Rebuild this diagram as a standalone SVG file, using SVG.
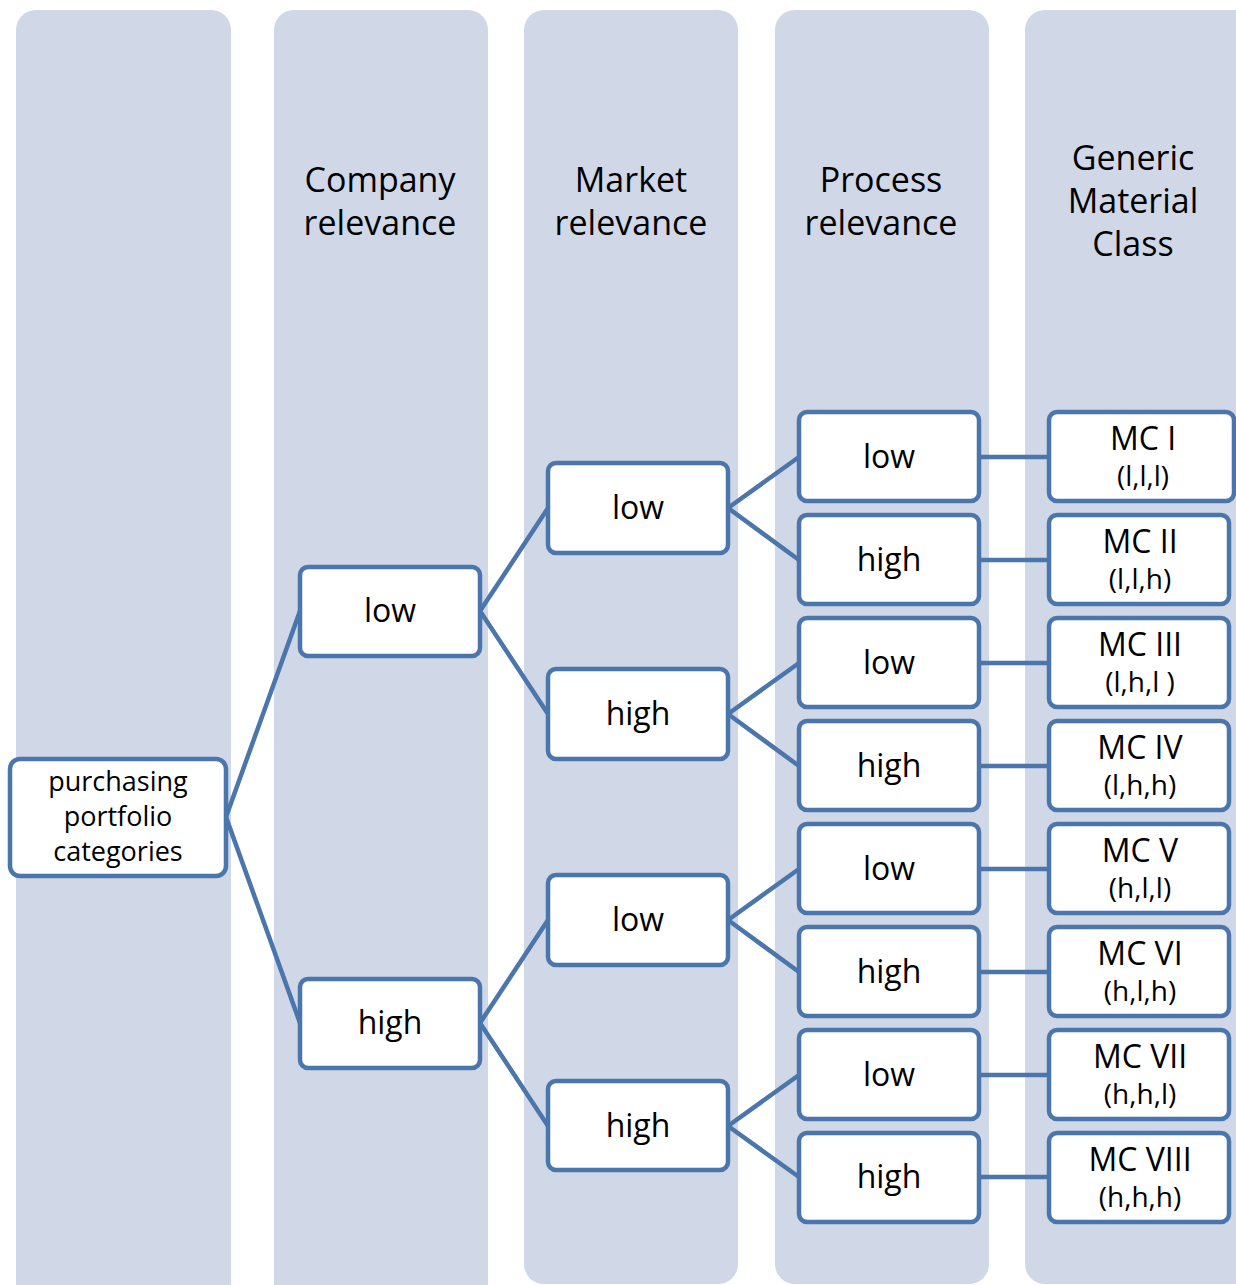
<svg xmlns="http://www.w3.org/2000/svg" width="1236" height="1285" viewBox="0 0 1236 1285">
<style>
.col{fill:#D0D8E8}
.box{fill:#FFFFFF;stroke:#4A76AC;stroke-width:4.5}
.hdr{font-family:"Open Sans","Liberation Sans",sans-serif;font-size:34px;fill:#000;text-anchor:middle}
.t{font-family:"Open Sans","Liberation Sans",sans-serif;font-size:32px;fill:#000;text-anchor:middle}
.s{font-family:"Open Sans","Liberation Sans",sans-serif;font-size:27px;fill:#000;text-anchor:middle}
.sm{font-family:"Open Sans","Liberation Sans",sans-serif;font-size:28px;fill:#000;text-anchor:middle}
.m{font-family:"Open Sans","Liberation Sans",sans-serif;font-size:32px;fill:#000;text-anchor:middle}
.c{fill:none;stroke:#4A76AC;stroke-width:4.5}
</style>
<rect width="1236" height="1285" fill="#FFFFFF"/>
<g id="columns">
<rect class="col" x="16" y="10" width="215" height="1295" rx="20"/>
<rect class="col" x="274" y="10" width="214" height="1295" rx="20"/>
<rect class="col" x="524" y="10" width="214" height="1274" rx="20"/>
<rect class="col" x="775" y="10" width="214" height="1274" rx="20"/>
<rect class="col" x="1025" y="10" width="230" height="1274" rx="20"/>
<text class="hdr" x="380" y="192">Company</text>
<text class="hdr" x="380" y="235">relevance</text>
<text class="hdr" x="631" y="192">Market</text>
<text class="hdr" x="631" y="235">relevance</text>
<text class="hdr" x="881" y="192">Process</text>
<text class="hdr" x="881" y="235">relevance</text>
<text class="hdr" x="1133" y="170">Generic</text>
<text class="hdr" x="1133" y="213">Material</text>
<text class="hdr" x="1133" y="256">Class</text>
</g>
<g id="connectors">
<path class="c" d="M226 817 L300 611 M226 817 L300 1023"/>
<path class="c" d="M480 611 L548 508 M480 611 L548 714 M480 1023 L548 920 M480 1023 L548 1126"/>
<path class="c" d="M728 508 L799 457 M728 508 L799 560 M728 714 L799 663 M728 714 L799 766 M728 920 L799 869 M728 920 L799 972 M728 1126 L799 1075 M728 1126 L799 1177"/>
<path class="c" d="M979 457 H1049 M979 560 H1049 M979 663 H1049 M979 766 H1049 M979 869 H1049 M979 972 H1049 M979 1075 H1049 M979 1177 H1049"/>
</g>
<g id="root">
<rect class="box" x="10" y="759" width="216" height="117" rx="10"/>
<text class="s" x="118" y="791">purchasing</text>
<text class="s" x="118" y="826">portfolio</text>
<text class="s" x="118" y="861">categories</text>
</g>
<g id="company-low"><rect class="box" x="300" y="567" width="180" height="89" rx="8"/><text class="t" x="390" y="622">low</text></g>
<g id="company-high"><rect class="box" x="300" y="979" width="180" height="89" rx="8"/><text class="t" x="390" y="1034">high</text></g>
<g id="market-low-1"><rect class="box" x="548" y="463" width="180" height="90" rx="8"/><text class="t" x="638" y="519">low</text></g>
<g id="market-high-1"><rect class="box" x="548" y="669" width="180" height="90" rx="8"/><text class="t" x="638" y="725">high</text></g>
<g id="market-low-2"><rect class="box" x="548" y="875" width="180" height="90" rx="8"/><text class="t" x="638" y="931">low</text></g>
<g id="market-high-2"><rect class="box" x="548" y="1081" width="180" height="89" rx="8"/><text class="t" x="638" y="1137">high</text></g>
<g id="process-1"><rect class="box" x="799" y="412" width="180" height="89" rx="8"/><text class="t" x="889" y="468">low</text></g>
<g id="process-2"><rect class="box" x="799" y="515" width="180" height="89" rx="8"/><text class="t" x="889" y="571">high</text></g>
<g id="process-3"><rect class="box" x="799" y="618" width="180" height="89" rx="8"/><text class="t" x="889" y="674">low</text></g>
<g id="process-4"><rect class="box" x="799" y="721" width="180" height="89" rx="8"/><text class="t" x="889" y="777">high</text></g>
<g id="process-5"><rect class="box" x="799" y="824" width="180" height="89" rx="8"/><text class="t" x="889" y="880">low</text></g>
<g id="process-6"><rect class="box" x="799" y="927" width="180" height="89" rx="8"/><text class="t" x="889" y="983">high</text></g>
<g id="process-7"><rect class="box" x="799" y="1030" width="180" height="89" rx="8"/><text class="t" x="889" y="1086">low</text></g>
<g id="process-8"><rect class="box" x="799" y="1133" width="180" height="89" rx="8"/><text class="t" x="889" y="1188">high</text></g>
<g id="mc-1"><rect class="box" x="1049" y="412" width="185" height="89" rx="8"/><text class="m" x="1143" y="450">MC I</text><text class="sm" x="1143" y="486">(l,l,l)</text></g>
<g id="mc-2"><rect class="box" x="1049" y="515" width="180" height="89" rx="8"/><text class="m" x="1140" y="553">MC II</text><text class="sm" x="1140" y="589">(l,l,h)</text></g>
<g id="mc-3"><rect class="box" x="1049" y="618" width="180" height="89" rx="8"/><text class="m" x="1140" y="656">MC III</text><text class="sm" x="1140" y="692">(l,h,l )</text></g>
<g id="mc-4"><rect class="box" x="1049" y="721" width="180" height="89" rx="8"/><text class="m" x="1140" y="759">MC IV</text><text class="sm" x="1140" y="795">(l,h,h)</text></g>
<g id="mc-5"><rect class="box" x="1049" y="824" width="180" height="89" rx="8"/><text class="m" x="1140" y="862">MC V</text><text class="sm" x="1140" y="898">(h,l,l)</text></g>
<g id="mc-6"><rect class="box" x="1049" y="927" width="180" height="89" rx="8"/><text class="m" x="1140" y="965">MC VI</text><text class="sm" x="1140" y="1001">(h,l,h)</text></g>
<g id="mc-7"><rect class="box" x="1049" y="1030" width="180" height="89" rx="8"/><text class="m" x="1140" y="1068">MC VII</text><text class="sm" x="1140" y="1104">(h,h,l)</text></g>
<g id="mc-8"><rect class="box" x="1049" y="1133" width="180" height="89" rx="8"/><text class="m" x="1140" y="1171">MC VIII</text><text class="sm" x="1140" y="1207">(h,h,h)</text></g>
</svg>
